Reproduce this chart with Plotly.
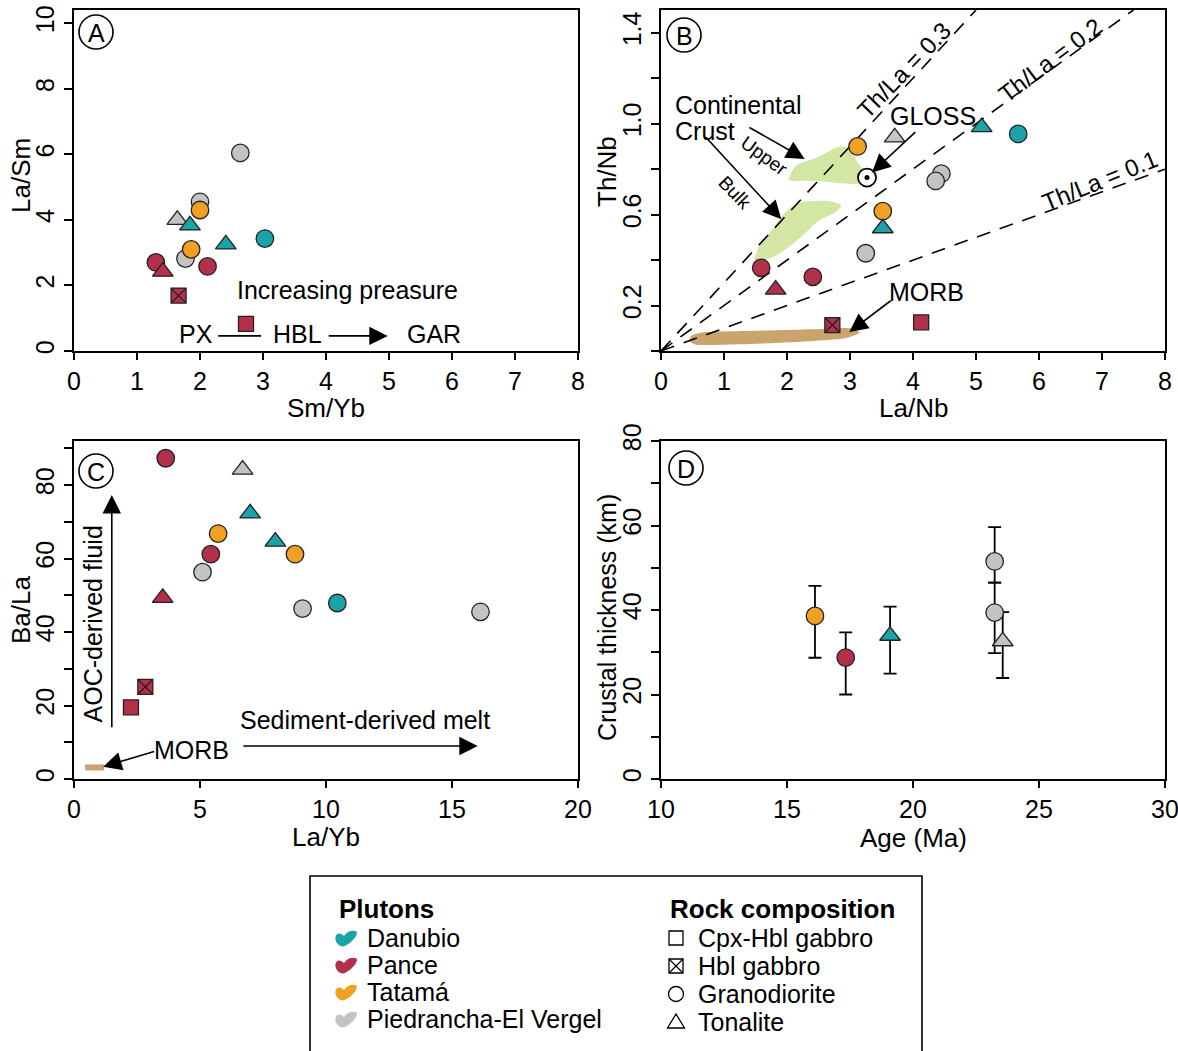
import plotly.graph_objects as go

W, H = 1178, 1051
FONT = "Liberation Sans, Arial, sans-serif"

# ---------------- data ----------------
PLUTON_COLORS = {"DAN": "#1AA3A8", "PAN": "#B3304A", "TAT": "#F2A023", "PIE": "#C3C3C3"}
PLUTON_NAMES = {"DAN": "Danubio", "PAN": "Pance", "TAT": "Tatamá", "PIE": "Piedrancha-El Vergel"}
ROCK_SYMBOLS = {"CPX": "square", "HBL": "square-x", "GD": "circle", "TO": "triangle-up"}
ROCK_SIZES = {"CPX": 15, "HBL": 15, "GD": 17.5, "TO": 18}
ROCK_NAMES = {"CPX": "Cpx-Hbl gabbro", "HBL": "Hbl gabbro", "GD": "Granodiorite", "TO": "Tonalite"}

# Panel A: Sm/Yb vs La/Sm
A_PLUTON = ["PIE", "PIE", "TAT", "PIE", "DAN", "DAN", "DAN", "PIE", "TAT", "PAN", "PAN", "PAN", "PAN", "PAN"]
A_ROCK = ["GD", "GD", "GD", "TO", "TO", "TO", "GD", "GD", "GD", "GD", "TO", "GD", "HBL", "CPX"]
A_SMYB = [2.64, 2.00, 2.00, 1.64, 1.84, 2.41, 3.03, 1.77, 1.86, 1.30, 1.41, 2.12, 1.66, 2.73]
A_LASM = [6.04, 4.55, 4.30, 4.00, 3.83, 3.25, 3.43, 2.82, 3.10, 2.70, 2.42, 2.58, 1.69, 0.83]

# Panel B: La/Nb vs Th/Nb
B_PLUTON = ["TAT", "PIE", "DAN", "DAN", "PIE", "PIE", "TAT", "DAN", "PIE", "PAN", "PAN", "PAN", "PAN", "PAN"]
B_ROCK = ["GD", "TO", "TO", "GD", "GD", "GD", "GD", "TO", "GD", "GD", "GD", "TO", "HBL", "CPX"]
B_LANB = [3.12, 3.71, 5.09, 5.67, 4.45, 4.36, 3.52, 3.52, 3.25, 1.59, 2.41, 1.82, 2.72, 4.13]
B_THNB = [0.90, 0.94, 0.985, 0.955, 0.78, 0.748, 0.615, 0.54, 0.43, 0.366, 0.326, 0.27, 0.114, 0.126]
GLOSS_LANB = [3.27]
GLOSS_THNB = [0.763]
TH_LA_RATIOS = [0.3, 0.2, 0.1]
UCC_LANB = [2.02, 2.14, 2.49, 2.82, 3.00, 3.12, 3.27, 3.30, 2.97, 2.49, 2.08]
UCC_THNB = [0.756, 0.815, 0.852, 0.899, 0.889, 0.83, 0.778, 0.74, 0.736, 0.748, 0.748]
BULK_LANB = [1.48, 1.54, 1.78, 2.02, 2.20, 2.67, 2.86, 2.79, 2.49, 2.20, 1.84, 1.60]
BULK_THNB = [0.40, 0.452, 0.54, 0.622, 0.652, 0.659, 0.641, 0.615, 0.570, 0.496, 0.422, 0.393]
MORB_LANB = [0.475, 0.65, 1.54, 2.43, 3.03, 3.15, 2.97, 2.43, 1.25, 0.53, 0.445]
MORB_THNB = [0.067, 0.081, 0.089, 0.096, 0.099, 0.081, 0.059, 0.044, 0.030, 0.030, 0.044]

# Panel C: La/Yb vs Ba/La
C_PLUTON = ["PAN", "PIE", "DAN", "TAT", "DAN", "PAN", "TAT", "PIE", "PAN", "DAN", "PIE", "PIE", "PAN", "PAN"]
C_ROCK = ["GD", "TO", "TO", "GD", "TO", "GD", "GD", "GD", "TO", "GD", "GD", "GD", "HBL", "CPX"]
C_LAYB = [3.64, 6.69, 6.99, 5.72, 7.99, 5.43, 8.77, 5.10, 3.52, 10.45, 9.07, 16.13, 2.83, 2.26]
C_BALA = [87.3, 84.2, 72.3, 66.8, 64.6, 61.2, 61.2, 56.3, 49.3, 47.9, 46.4, 45.5, 25.1, 19.5]
C_MORB_LAYB = [0.44, 1.19]
C_MORB_BALA = [3.15, 3.15]

# Panel D: Age vs crustal thickness
D_PLUTON = ["TAT", "PAN", "DAN", "PIE", "PIE", "PIE"]
D_ROCK = ["GD", "GD", "TO", "GD", "GD", "TO"]
D_AGE = [16.11, 17.33, 19.09, 23.24, 23.24, 23.56]
D_THICK = [38.6, 28.75, 33.9, 51.5, 39.4, 32.6]
D_ERR_PLUS = [7.1, 5.95, 6.9, 8.1, 7.1, 6.9]
D_ERR_MINUS = [9.9, 8.75, 8.95, 5.0, 9.6, 8.7]

# ---------------- helpers ----------------
def px(x):
    return x / W

def py(y):
    return 1 - y / H

COL1 = [px(74), px(578)]
COL2 = [px(661), px(1165)]
ROW1 = [py(351), py(10)]
ROW2 = [py(779), py(441)]

def marker_style(plutons, rocks):
    return dict(
        color=[PLUTON_COLORS[p] for p in plutons],
        symbol=[ROCK_SYMBOLS[r] for r in rocks],
        size=[ROCK_SIZES[r] for r in rocks],
        line=dict(color="#222222", width=1.3),
        opacity=1,
    )

fig = go.Figure()

# Panel A
fig.add_trace(go.Scatter(x=A_SMYB, y=A_LASM, mode="markers", marker=marker_style(A_PLUTON, A_ROCK),
                         xaxis="x", yaxis="y", cliponaxis=False))

# Panel B fields
for xs, ys, col in [(UCC_LANB, UCC_THNB, "#D4E6A4"), (BULK_LANB, BULK_THNB, "#D4E6A4"),
                    (MORB_LANB, MORB_THNB, "#C9A46C")]:
    fig.add_trace(go.Scatter(x=xs, y=ys, mode="lines", fill="toself", fillcolor=col,
                             line=dict(width=0, color=col, shape="spline", smoothing=0.8),
                             xaxis="x2", yaxis="y2", hoverinfo="skip"))
for r in TH_LA_RATIOS:
    xe = min(8.0, 1.5 / r)
    fig.add_trace(go.Scatter(x=[0, xe], y=[0, r * xe], mode="lines",
                             line=dict(color="black", width=1.6, dash="14px,10px"),
                             xaxis="x2", yaxis="y2", hoverinfo="skip"))
fig.add_trace(go.Scatter(x=B_LANB, y=B_THNB, mode="markers", marker=marker_style(B_PLUTON, B_ROCK),
                         xaxis="x2", yaxis="y2", cliponaxis=False))
fig.add_trace(go.Scatter(x=GLOSS_LANB, y=GLOSS_THNB, mode="markers",
                         marker=dict(color="white", size=18, line=dict(color="black", width=1.8)),
                         xaxis="x2", yaxis="y2"))
fig.add_trace(go.Scatter(x=GLOSS_LANB, y=GLOSS_THNB, mode="markers",
                         marker=dict(color="black", size=5, line=dict(width=0)),
                         xaxis="x2", yaxis="y2"))

# Panel C
fig.add_trace(go.Scatter(x=C_MORB_LAYB, y=C_MORB_BALA, mode="lines",
                         line=dict(color="#C9A46C", width=6), xaxis="x3", yaxis="y3"))
fig.add_trace(go.Scatter(x=C_LAYB, y=C_BALA, mode="markers", marker=marker_style(C_PLUTON, C_ROCK),
                         xaxis="x3", yaxis="y3", cliponaxis=False))

# Panel D
fig.add_trace(go.Scatter(x=D_AGE, y=D_THICK, mode="markers", marker=marker_style(D_PLUTON, D_ROCK),
                         error_y=dict(type="data", symmetric=False, array=D_ERR_PLUS,
                                      arrayminus=D_ERR_MINUS, color="black", thickness=1.8, width=6.5),
                         xaxis="x4", yaxis="y4", cliponaxis=False))

# ---------------- axes ----------------
TICKFONT = dict(family=FONT, size=25, color="black")

def base_axis(domain, anchor, rng, tickvals, ticktext=None):
    d = dict(domain=domain, anchor=anchor, range=rng, tickvals=tickvals, automargin=False,
             showline=True, mirror=True, linecolor="black", linewidth=2,
             ticks="outside", ticklen=7, tickwidth=2, tickcolor="black",
             showgrid=False, zeroline=False, tickfont=TICKFONT, ticklabeloverflow="allow")
    if ticktext is not None:
        d["ticktext"] = ticktext
    return d

def xax(domain, anchor, rng, tickvals, ticktext=None):
    return base_axis(domain, anchor, rng, tickvals, ticktext)

def yax(domain, anchor, rng, tickvals, ticktext=None):
    d = base_axis(domain, anchor, rng, tickvals, ticktext)
    d["tickangle"] = -90
    d["ticklen"] = 8
    return d

def labels_every(vals, keep):
    return [("%g" % v if v in keep else "") for v in vals]

B_YT = [0, 0.2, 0.4, 0.6, 0.8, 1.0, 1.2, 1.4]
B_YL = ["", "0.2", "", "0.6", "", "1.0", "", "1.4"]
C_YT = list(range(0, 100, 10))
C_YL = labels_every(C_YT, [0, 20, 40, 60, 80])
D_YT = list(range(0, 90, 10))
D_YL = labels_every(D_YT, [0, 20, 40, 60, 80])

fig.update_layout(
    xaxis=xax(COL1, "y", [0, 8], list(range(0, 9))),
    yaxis=yax(ROW1, "x", [0, 10.4], [0, 2, 4, 6, 8, 10]),
    xaxis2=xax(COL2, "y2", [0, 8], list(range(0, 9))),
    yaxis2=yax(ROW1, "x2", [0, 1.5], B_YT, B_YL),
    xaxis3=xax(COL1, "y3", [0, 20], [0, 5, 10, 15, 20]),
    yaxis3=yax(ROW2, "x3", [0, 92], C_YT, C_YL),
    xaxis4=xax(COL2, "y4", [10, 30], [10, 15, 20, 25, 30]),
    yaxis4=yax(ROW2, "x4", [0, 80], D_YT, D_YL),
)

# ---------------- annotations ----------------
anns = []
shapes = []

def txt(xr, yr, x, y, text, size=25, angle=0, xanchor="center", bold=False):
    anns.append(dict(xref=xr, yref=yr, x=x, y=y, text=("<b>%s</b>" % text) if bold else text,
                     showarrow=False, textangle=angle, xanchor=xanchor, yanchor="middle",
                     font=dict(family=FONT, size=size, color="black")))

def arrow(xr, yr, xt, yt, xh, yh):
    anns.append(dict(xref=xr, yref=yr, axref=xr, ayref=yr, x=xh, y=yh, ax=xt, ay=yt, text="",
                     showarrow=True, arrowhead=2, arrowsize=2.3, arrowwidth=1.6, arrowcolor="black",
                     standoff=0, startstandoff=0))

# Axis titles (placed as text next to each panel)
txt("paper", "paper", px(326), py(408), "Sm/Yb", size=26)
txt("paper", "paper", px(913), py(408), "La/Nb", size=26)
txt("paper", "paper", px(326), py(837), "La/Yb", size=26)
txt("paper", "paper", px(913), py(838), "Age (Ma)", size=26)
txt("paper", "paper", px(21), py(176), "La/Sm", size=26, angle=-90)
txt("paper", "paper", px(607), py(172), "Th/Nb", size=26, angle=-90)
txt("paper", "paper", px(21), py(610), "Ba/La", size=26, angle=-90)
txt("paper", "paper", px(607), py(618), "Crustal thickness (km)", size=25, angle=-90)

# Panel A
txt("x", "y", 4.34, 1.86, "Increasing preasure")
txt("x", "y", 1.94, 0.52, "PX")
txt("x", "y", 3.54, 0.52, "HBL")
txt("x", "y", 5.71, 0.52, "GAR")
shapes.append(dict(type="line", xref="x", yref="y", x0=2.29, x1=2.97, y0=0.46, y1=0.46,
                   line=dict(color="black", width=1.6)))
arrow("x", "y", 4.02, 0.46, 4.98, 0.46)

# Panel B
txt("x2", "y2", 0.19, 1.084, "Continental", xanchor="left")
txt("x2", "y2", 0.19, 0.969, "Crust", xanchor="left")
arrow("x2", "y2", 1.38, 0.987, 2.28, 0.845)
arrow("x2", "y2", 0.69, 0.947, 1.91, 0.58)
txt("x2", "y2", 1.63, 0.858, "Upper", size=19, angle=36)
txt("x2", "y2", 1.17, 0.696, "Bulk", size=19, angle=46)
txt("x2", "y2", 4.31, 1.035, "GLOSS")
arrow("x2", "y2", 4.06, 0.969, 3.35, 0.785)
txt("x2", "y2", 4.21, 0.261, "MORB")
arrow("x2", "y2", 3.67, 0.226, 2.99, 0.084)
txt("x2", "y2", 3.85, 1.235, "Th/La = 0.3", size=24, angle=-46)
txt("x2", "y2", 6.17, 1.28, "Th/La = 0.2", size=24, angle=-37)
txt("x2", "y2", 6.97, 0.748, "Th/La = 0.1", size=24, angle=-22)

# Panel C
txt("x3", "y3", 4.68, 7.85, "MORB")
arrow("x3", "y3", 3.24, 7.6, 1.16, 3.35)
arrow("x3", "y3", 6.66, 9.0, 16.02, 9.0)
txt("x3", "y3", 11.56, 16.0, "Sediment-derived melt")
arrow("x3", "y3", 1.50, 13.7, 1.50, 77.3)
txt("x3", "y3", 0.76, 42.1, "AOC-derived fluid", angle=-90)

# Panel letters in circles
for letter, (cx, cy) in {"A": (96, 32), "B": (684, 35), "C": (96, 471), "D": (686, 468)}.items():
    r = 17
    shapes.append(dict(type="circle", xref="paper", yref="paper",
                       x0=px(cx - r), x1=px(cx + r), y0=py(cy + r), y1=py(cy - r),
                       line=dict(color="black", width=1.6)))
    anns.append(dict(xref="paper", yref="paper", x=px(cx), y=py(cy + 1), text=letter, showarrow=False,
                     xanchor="center", yanchor="middle", font=dict(family=FONT, size=25, color="black")))

# ---------------- legend box ----------------
shapes.append(dict(type="rect", xref="paper", yref="paper", x0=px(310), x1=px(922),
                   y0=py(1070), y1=py(876), line=dict(color="black", width=1.6)))
txt("paper", "paper", px(337), py(909), "Plutons", size=26, xanchor="left", bold=True)
txt("paper", "paper", px(668), py(909), "Rock composition", size=26, xanchor="left", bold=True)

def blob_path(x0, y0):
    segs = [("M", [(0.5, 7)]),
            ("C", [(1.5, 2.5), (6, 2.5), (9, 6)]),
            ("C", [(12, 1), (18, -0.5), (21.5, 1.5)]),
            ("C", [(23.5, 4), (18, 12), (10, 16)]),
            ("C", [(4.5, 18), (-0.5, 12), (0.5, 7)])]
    out = []
    for cmd, pts in segs:
        out.append(cmd + " ".join("%.5f,%.5f" % (px(x0 + a), py(y0 + b)) for a, b in pts))
    return " ".join(out) + " Z"

pl_rows = [938, 965, 992, 1019]
for key, yc in zip(["DAN", "PAN", "TAT", "PIE"], pl_rows):
    shapes.append(dict(type="path", xref="paper", yref="paper", path=blob_path(335, yc - 8),
                       fillcolor=PLUTON_COLORS[key], line=dict(width=0)))
    txt("paper", "paper", px(365), py(yc), PLUTON_NAMES[key], size=25, xanchor="left")

rk_rows = [938, 966, 994, 1022]
for key, yc in zip(["CPX", "HBL", "GD", "TO"], rk_rows):
    cx = 676
    ln = dict(color="black", width=1.3)
    if key in ("CPX", "HBL"):
        shapes.append(dict(type="rect", xref="paper", yref="paper", x0=px(cx - 7), x1=px(cx + 7),
                           y0=py(yc + 7), y1=py(yc - 7), line=ln))
        if key == "HBL":
            shapes.append(dict(type="line", xref="paper", yref="paper", x0=px(cx - 7), x1=px(cx + 7),
                               y0=py(yc + 7), y1=py(yc - 7), line=ln))
            shapes.append(dict(type="line", xref="paper", yref="paper", x0=px(cx - 7), x1=px(cx + 7),
                               y0=py(yc - 7), y1=py(yc + 7), line=ln))
    elif key == "GD":
        shapes.append(dict(type="circle", xref="paper", yref="paper", x0=px(cx - 7.5), x1=px(cx + 7.5),
                           y0=py(yc + 7.5), y1=py(yc - 7.5), line=ln))
    else:
        shapes.append(dict(type="path", xref="paper", yref="paper",
                           path="M%.5f,%.5f L%.5f,%.5f L%.5f,%.5f Z" % (px(cx), py(yc - 8), px(cx - 8.5), py(yc + 6),
                                                                      px(cx + 8.5), py(yc + 6)), line=ln))
    txt("paper", "paper", px(696), py(yc), ROCK_NAMES[key], size=25, xanchor="left")

fig.update_layout(
    width=W, height=H, margin=dict(l=0, r=0, t=0, b=0, pad=0), autosize=False,
    paper_bgcolor="white", plot_bgcolor="white", showlegend=False,
    font=dict(family=FONT, color="black"),
    annotations=anns, shapes=shapes,
)

fig.write_html("out.html", config={"displayModeBar": False},
               post_script="document.body.style.margin='0px';")
